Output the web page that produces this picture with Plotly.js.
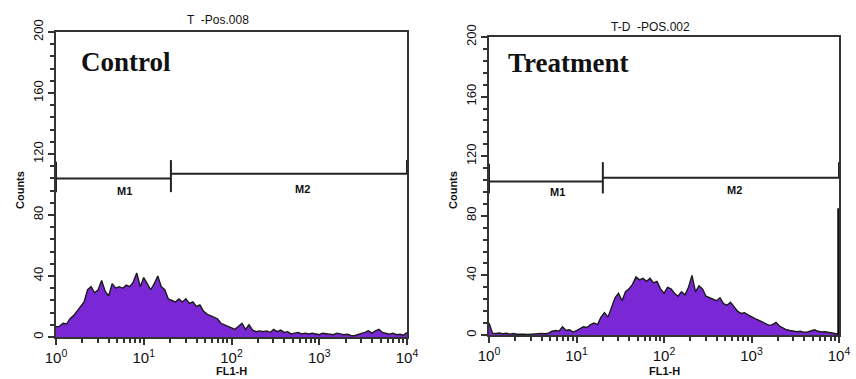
<!DOCTYPE html>
<html>
<head>
<meta charset="utf-8">
<script src="https://cdn.plot.ly/plotly-3.0.1.min.js"></script>
<style>html,body{margin:0;padding:0;background:#fff;}#chart{width:856px;height:379px;}</style>
</head>
<body>
<div id="chart"></div>
<script>
// Channel counts sampled every 0.04 decade from 10^0 to 10^4
const controlCounts = [
  6.8, 7, 9, 8.5, 12, 14, 17, 20, 23, 31,
  33, 29, 31, 37, 30, 27, 35, 32, 33, 32,
  34, 33, 36, 42, 33, 39, 35, 31, 35, 40,
  33, 31, 25, 24, 23, 25, 23, 25, 22, 23,
  20, 21, 17, 15, 14, 12.5, 12, 9, 8, 7,
  6.5, 5, 7, 9, 5, 8, 4.5, 3.5, 4, 3.5,
  4, 3, 5, 3.5, 4.5, 3, 3.5, 2, 2.5, 3,
  2, 2.5, 2, 2.5, 2, 1.5, 2.5, 2, 2, 1.5,
  2.5, 2, 1.5, 1.8, 1, 0.8, 1.5, 2, 3, 4,
  2.5, 4, 5, 3, 2.5, 1.8, 2.5, 1.5, 1.8, 1.2,
  3
];
const treatmentCounts = [
  8, 1.2, 1, 1.3, 0.8, 1.2, 0.6, 1, 0.5, 0.8,
  0.6, 0.4, 0.7, 0.5, 0.9, 1, 0.8, 1.2, 2.5, 3,
  2.5, 5.5, 3, 3.5, 2, 3, 4, 5.5, 5, 7,
  8, 7, 12, 15, 12, 18, 25, 28, 23, 29,
  31, 34, 39, 37, 38, 36, 38, 35, 36, 31,
  28, 32, 31, 28, 26, 29, 27, 32, 40, 29,
  33, 31, 26, 25, 24, 23, 25, 21, 20, 22,
  19, 16, 14.5, 15, 13.5, 12, 11, 10, 9, 7.5,
  6.5, 7, 8.5, 6, 4.5, 3.5, 3, 2.5, 2.2, 2.5,
  1.8, 2, 2.5, 3.5, 2.5, 2, 2.2, 1.8, 1.5, 1,
  0.5
];
const panelNames = ["Control", "Treatment"];
const panelTitles = ["T  -Pos.008", "T-D  -POS.002"];
const xTickVals = [1, 10, 100, 1000, 10000];
const xTickText = ["10<sup>0</sup>", "10<sup>1</sup>", "10<sup>2</sup>", "10<sup>3</sup>", "10<sup>4</sup>"];
const gateSplit = [20.4, 20];      // M1/M2 boundary (FL1-H)
const gateM1Level = [104, 103];    // counts level of M1 bar
const gateM2Level = [107, 105.5];  // counts level of M2 bar
const gateLabelPos = [6.1, 640];   // M1, M2 label x
const rightEdgeSpike = 85;         // last channel (treatment)

function channels(n) {
  const xs = [];
  for (let i = 0; i < n; i++) xs.push(Math.pow(10, 4 * i / (n - 1)));
  return xs;
}
const minorVals = [];
[1, 10, 100, 1000].forEach(d => { for (let k = 2; k <= 9; k++) minorVals.push(d * k); });

const fillCol = "rgb(122,40,214)";
const lineCol = "#1a1a1a";
const sans = "Liberation Sans, Arial";

const traces = [
  {x: channels(controlCounts.length), y: controlCounts, xaxis: "x", yaxis: "y",
   type: "scatter", mode: "lines", fill: "tozeroy", fillcolor: fillCol,
   line: {color: lineCol, width: 1.4}, hoverinfo: "x+y"},
  {x: channels(treatmentCounts.length), y: treatmentCounts, xaxis: "x2", yaxis: "y2",
   type: "scatter", mode: "lines", fill: "tozeroy", fillcolor: fillCol,
   line: {color: lineCol, width: 1.4}, hoverinfo: "x+y"}
];

function xAxis(domain, anchor) {
  return {
    type: "log", domain: domain, anchor: anchor, range: [0, 4],
    tickvals: xTickVals, ticktext: xTickText, ticks: "outside", ticklen: 6, tickwidth: 2,
    tickcolor: "#333", showline: true, linecolor: "#333", linewidth: 2, mirror: true,
    showgrid: false, zeroline: false,
    tickfont: {family: sans, size: 15, color: "#111"},
    minor: {tickvals: minorVals, ticks: "outside", ticklen: 4, tickwidth: 2, tickcolor: "#333", showgrid: false}
  };
}
function yAxis(domain, anchor) {
  return {
    domain: domain, anchor: anchor, range: [0, 200], dtick: 40, tick0: 0,
    ticks: "outside", ticklen: 6, tickwidth: 2, tickcolor: "#333", tickangle: -90,
    showline: true, linecolor: "#333", linewidth: 2, mirror: true,
    showgrid: false, zeroline: false,
    tickfont: {family: sans, size: 13, color: "#111"},
    minor: {dtick: 8, tick0: 0, ticks: "outside", ticklen: 4, tickwidth: 2, tickcolor: "#333", showgrid: false}
  };
}

const shapes = [];
const annotations = [];
const nameY = [180, 182.5];
const nameX = [0.26, 0.19];
[["x", "y"], ["x2", "y2"]].forEach((ax, i) => {
  const xr = ax[0], yr = ax[1];
  const L = {color: "#222", width: 2};
  shapes.push({type: "line", xref: xr, yref: yr, x0: 1, x1: gateSplit[i], y0: gateM1Level[i], y1: gateM1Level[i], line: L});
  shapes.push({type: "line", xref: xr, yref: yr, x0: gateSplit[i], x1: 10000, y0: gateM2Level[i], y1: gateM2Level[i], line: L});
  shapes.push({type: "line", xref: xr, yref: yr, x0: gateSplit[i], x1: gateSplit[i], y0: 95, y1: 116, line: L});
  shapes.push({type: "line", xref: xr, yref: yr, x0: 10000, x1: 10000, y0: gateM2Level[i], y1: 116, line: L});
  shapes.push({type: "line", xref: xr, yref: yr, x0: 1, x1: 1, y0: 95, y1: 115, line: L});
  annotations.push({xref: xr, yref: yr, x: Math.log10(gateLabelPos[0]), y: 96, xanchor: "center", yanchor: "middle",
    text: "<b>M1</b>", showarrow: false, font: {family: sans, size: 11, color: "#111"}});
  annotations.push({xref: xr, yref: yr, x: Math.log10(gateLabelPos[1]), y: 97, xanchor: "center", yanchor: "middle",
    text: "<b>M2</b>", showarrow: false, font: {family: sans, size: 11, color: "#111"}});
  annotations.push({xref: xr, yref: yr, x: nameX[i], y: nameY[i], xanchor: "left", yanchor: "middle",
    text: "<b>" + panelNames[i] + "</b>", showarrow: false,
    font: {family: "Liberation Serif, Times New Roman", size: 27, color: "#111"}});
});
shapes.push({type: "line", xref: "x2", yref: "y2", x0: 10000, x1: 10000, y0: 0, y1: rightEdgeSpike, line: {color: "#111", width: 3.5}});

// panel titles, axis titles
annotations.push({xref: "paper", yref: "paper", x: 218 / 856, y: 1 - 20 / 379, xanchor: "center", yanchor: "middle",
  text: panelTitles[0], showarrow: false, font: {family: sans, size: 12, color: "#111"}});
annotations.push({xref: "paper", yref: "paper", x: 650 / 856, y: 1 - 27 / 379, xanchor: "center", yanchor: "middle",
  text: panelTitles[1], showarrow: false, font: {family: sans, size: 12, color: "#111"}});
[20, 453].forEach(px => annotations.push({xref: "paper", yref: "paper", x: px / 856, y: 1 - 190 / 379,
  xanchor: "center", yanchor: "middle", text: "<b>Counts</b>",
  textangle: -90, showarrow: false, font: {family: sans, size: 11, color: "#111"}}));
[232, 664].forEach(px => annotations.push({xref: "paper", yref: "paper", x: px / 856, y: 1 - 371 / 379,
  xanchor: "center", yanchor: "middle", text: "<b>FL1-H</b>",
  showarrow: false, font: {family: sans, size: 11, color: "#111"}}));

const layout = {
  width: 856, height: 379, margin: {l: 0, r: 0, t: 0, b: 0},
  paper_bgcolor: "#fff", plot_bgcolor: "#fff", showlegend: false,
  xaxis: xAxis([56 / 856, 407 / 856], "y"),
  yaxis: yAxis([1 - 337 / 379, 1 - 32 / 379], "x"),
  xaxis2: xAxis([489 / 856, 839 / 856], "y2"),
  yaxis2: yAxis([1 - 335 / 379, 1 - 37 / 379], "x2"),
  shapes: shapes, annotations: annotations
};
Plotly.newPlot("chart", traces, layout, {displayModeBar: false, staticPlot: true});
</script>
</body>
</html>
